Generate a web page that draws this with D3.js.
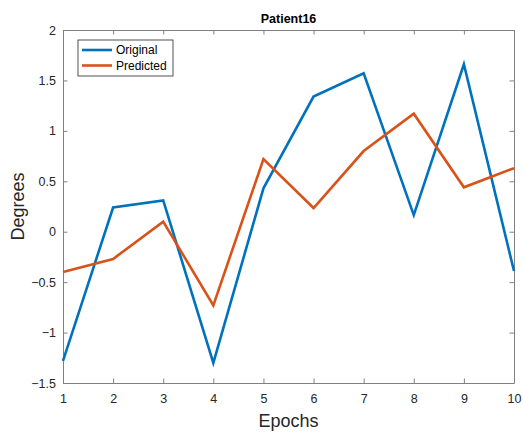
<!DOCTYPE html>
<html>
<head>
<meta charset="utf-8">
<script src="https://cdn.jsdelivr.net/npm/d3@7"></script>
<style>
  html, body { margin: 0; padding: 0; background: #fff; }
  svg { display: block; font-family: "Liberation Sans", Arial, Helvetica, sans-serif; }
</style>
</head>
<body>
<svg id="chart" width="523" height="432"></svg>
<script>
// Epoch index on the x axis
const epochs = [1, 2, 3, 4, 5, 6, 7, 8, 9, 10];
// Measured angle (degrees) per epoch
const original = [-1.28, 0.24, 0.31, -1.30, 0.43, 1.34, 1.57, 0.165, 1.66, -0.39];
// Model prediction (degrees) per epoch
const predicted = [-0.40, -0.27, 0.10, -0.73, 0.72, 0.235, 0.80, 1.17, 0.44, 0.63];
const xTicks = [1, 2, 3, 4, 5, 6, 7, 8, 9, 10];
const yTicks = [-1.5, -1, -0.5, 0, 0.5, 1, 1.5, 2];
const seriesNames = ["Original", "Predicted"];
const seriesColors = ["#0072BD", "#D95319"];

const margin = { left: 63, top: 30, right: 9, bottom: 49 };
const W = 523, H = 432;
const svg = d3.select("#chart");

const x = d3.scaleLinear().domain([1, 10]).range([margin.left, W - margin.right]);
const y = d3.scaleLinear().domain([-1.5, 2]).range([H - margin.bottom, margin.top]);

const axisColor = "#808080";
const textColor = "#262626";
const tickLen = 4.5;

const g = svg.append("g");

// bottom axis
const xAxis = g.append("g")
  .attr("transform", `translate(0,${y(-1.5)})`)
  .call(d3.axisBottom(x).tickValues(xTicks).tickFormat(d3.format("d")).tickSizeInner(-tickLen).tickSizeOuter(0).tickPadding(11));
// top axis (ticks only)
const xTop = g.append("g")
  .attr("transform", `translate(0,${y(2)})`)
  .call(d3.axisTop(x).tickValues(xTicks).tickFormat("").tickSizeInner(-tickLen).tickSizeOuter(0));
// left axis
const yAxis = g.append("g")
  .attr("transform", `translate(${x(1)},0)`)
  .call(d3.axisLeft(y).tickValues(yTicks).tickFormat(d => d3.format("")(d)).tickSizeInner(-tickLen).tickSizeOuter(0).tickPadding(7));
// right axis (ticks only)
const yRight = g.append("g")
  .attr("transform", `translate(${x(10)},0)`)
  .call(d3.axisRight(y).tickValues(yTicks).tickFormat("").tickSizeInner(-tickLen).tickSizeOuter(0));

[xAxis, xTop, yAxis, yRight].forEach(a => {
  a.select(".domain").attr("stroke", axisColor).attr("stroke-width", 1);
  a.selectAll(".tick line").attr("stroke", axisColor).attr("stroke-width", 1);
  a.selectAll(".tick text").attr("fill", textColor).attr("font-size", 12.5)
    .attr("font-family", "Liberation Sans, Arial, sans-serif");
});

// data lines
const series = [original, predicted];
const line = d3.line().x((d, i) => x(epochs[i])).y(d => y(d));
series.forEach((s, k) => {
  g.append("path")
    .datum(s)
    .attr("d", line)
    .attr("fill", "none")
    .attr("stroke", seriesColors[k])
    .attr("stroke-width", 2.6)
    .attr("stroke-linejoin", "miter");
});

// title
svg.append("text")
  .attr("x", (x(1) + x(10)) / 2)
  .attr("y", 23)
  .attr("text-anchor", "middle")
  .attr("font-weight", "bold")
  .attr("font-size", 12.5)
  .attr("fill", "#000")
  .text("Patient16");

// axis labels
svg.append("text")
  .attr("x", (x(1) + x(10)) / 2)
  .attr("y", 427)
  .attr("text-anchor", "middle")
  .attr("font-size", 18)
  .attr("fill", textColor)
  .text("Epochs");

svg.append("text")
  .attr("transform", `translate(24,${(y(-1.5) + y(2)) / 2}) rotate(-90)`)
  .attr("text-anchor", "middle")
  .attr("font-size", 18)
  .attr("fill", textColor)
  .text("Degrees");

// legend
const lg = svg.append("g").attr("transform", "translate(78,40)");
lg.append("rect")
  .attr("width", 95).attr("height", 36)
  .attr("fill", "#fff").attr("stroke", "#262626").attr("stroke-width", 0.8);
seriesNames.forEach((name, k) => {
  const yy = 10 + k * 15.5;
  lg.append("line")
    .attr("x1", 4).attr("x2", 34).attr("y1", yy).attr("y2", yy)
    .attr("stroke", seriesColors[k]).attr("stroke-width", 2.6);
  lg.append("text")
    .attr("x", 38).attr("y", yy + 4.2)
    .attr("font-size", 12)
    .attr("fill", "#000")
    .text(name);
});
</script>
</body>
</html>
